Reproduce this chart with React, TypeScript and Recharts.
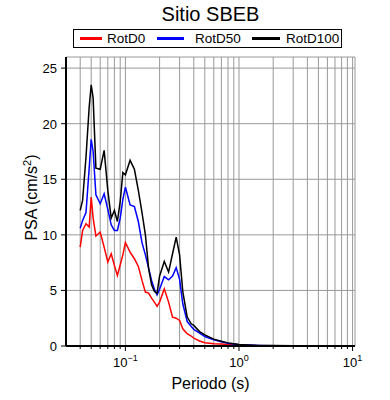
import { LineChart, Line, XAxis, YAxis, CartesianGrid } from "recharts";

// Periods (s) and PSA values (cm/s^2)
const periods = [
  0.04, 0.042, 0.045, 0.048, 0.05, 0.052, 0.055, 0.06, 0.065, 0.07, 0.075, 0.08, 0.085, 0.09,
  0.095, 0.1, 0.11, 0.12, 0.13, 0.14, 0.15, 0.16, 0.17, 0.18, 0.19, 0.2, 0.22, 0.24, 0.26,
  0.28, 0.3, 0.32, 0.35, 0.38, 0.4, 0.45, 0.5, 0.55, 0.6, 0.7, 0.8, 0.9, 1, 1.2, 1.5, 2, 3, 4,
  5, 7.5, 10,
];

const rotD0 = [
  8.9, 10.4, 11.0, 10.7, 13.4, 11.5, 9.9, 10.25, 8.9, 7.55, 8.3, 7.25, 6.35, 7.3, 8.2, 9.3,
  8.45, 7.85, 7.16, 5.9, 4.85, 4.76, 4.3, 3.95, 3.57, 3.95, 5.15, 3.95, 2.6, 2.5, 2.3, 1.55,
  1.1, 0.9, 0.7, 0.45, 0.3, 0.25, 0.21, 0.17, 0.14, 0.1, 0.07, 0.05, 0.03, 0.02, 0.01, 0.006,
  0.004, 0.002, 0.001,
];

const rotD50 = [
  10.6, 11.3, 12.0, 16.0, 18.6, 17.5, 13.6, 12.8, 13.7, 12.3, 10.9, 10.4, 10.4, 11.5, 13.2,
  14.3, 12.7, 12.55, 11.2, 9.3, 8.2, 7.0, 5.9, 5.1, 4.6, 5.1, 6.25, 5.96, 6.3, 7.05, 6.0, 3.8,
  2.2, 1.75, 1.5, 1.15, 0.85, 0.7, 0.55, 0.38, 0.25, 0.18, 0.12, 0.08, 0.05, 0.03, 0.015,
  0.01, 0.007, 0.004, 0.002,
];

const rotD100 = [
  12.2, 13.1, 17.0, 21.5, 23.5, 22.3, 16.0, 15.9, 17.6, 14.0, 11.5, 12.2, 11.2, 13.0, 15.6,
  15.4, 16.7, 15.9, 14.0, 12.0, 10.0, 7.0, 5.5, 4.9, 4.75, 6.3, 7.6, 6.65, 8.3, 9.8, 8.2, 4.9,
  2.6, 2.0, 1.85, 1.3, 1.0, 0.8, 0.62, 0.42, 0.28, 0.2, 0.13, 0.09, 0.05, 0.035, 0.02, 0.012,
  0.008, 0.005, 0.003,
];

const xTicks = [
  0.04, 0.05, 0.06, 0.07, 0.08, 0.09, 0.1, 0.2, 0.3, 0.4, 0.5, 0.6, 0.7, 0.8, 0.9, 1, 2, 3, 4,
  5, 6, 7, 8, 9, 10,
];
const yTicks = [0, 5, 10, 15, 20, 25];

const seriesInfo = [
  { key: "rotD0", name: "RotD0", color: "#ff0000" },
  { key: "rotD50", name: "RotD50", color: "#0000ff" },
  { key: "rotD100", name: "RotD100", color: "#000000" },
];

const data = periods.map((p, i) => ({
  period: p,
  rotD0: rotD0[i],
  rotD50: rotD50[i],
  rotD100: rotD100[i],
}));

const FONT = "'Liberation Sans', Arial, Helvetica, sans-serif";

const isDecade = (v: number) => Math.abs(Math.log10(v) - Math.round(Math.log10(v))) < 1e-6;

function BottomTick(props: any) {
  const { x, y, payload } = props;
  const v = payload.value;
  const major = isDecade(v);
  const exp = Math.round(Math.log10(v));
  return (
    <g>
      <line x1={x} y1={y} x2={x} y2={y + (major ? 5 : 3)} stroke="#000" strokeWidth={1} />
      {major && (
        <text x={x} y={y + 21} textAnchor="middle" fontSize={13} fontFamily={FONT} fill="#000">
          <tspan>10</tspan>
          <tspan dy={-6} fontSize={9}>
            {exp < 0 ? "\u2212" + Math.abs(exp) : exp}
          </tspan>
        </text>
      )}
    </g>
  );
}

function TopTick(props: any) {
  const { x, y, payload } = props;
  const major = isDecade(payload.value);
  return <line x1={x} y1={y} x2={x} y2={y - (major ? 5 : 3)} stroke="#000" strokeWidth={1} />;
}

function LeftTick(props: any) {
  const { x, y, payload } = props;
  return (
    <g>
      <line x1={x - 5} y1={y} x2={x} y2={y} stroke="#000" strokeWidth={1} />
      <text x={x - 9} y={y + 5} textAnchor="end" fontSize={13} fontFamily={FONT} fill="#000">
        {payload.value}
      </text>
    </g>
  );
}

function RightTick(props: any) {
  const { x, y } = props;
  return <line x1={x} y1={y} x2={x + 5} y2={y} stroke="#000" strokeWidth={1} />;
}

// y title with a raised "2"
function YTitle(props: any) {
  const vb = props.viewBox || {};
  const cx = (vb.x || 0) + 37;
  const cy = (vb.y || 0) + (vb.height || 0) / 2 - 4;
  return (
    <text
      x={cx}
      y={cy}
      transform={`rotate(-90 ${cx} ${cy})`}
      textAnchor="middle"
      fontSize={16}
      fontFamily={FONT}
      fill="#000"
    >
      <tspan>PSA (cm/s</tspan>
      <tspan dy={-6} fontSize={11}>
        2
      </tspan>
      <tspan dy={6}>)</tspan>
    </text>
  );
}

const frameLine = { stroke: "#000", strokeWidth: 2 };

export default function App() {
  return (
    <div
      style={{
        position: "absolute",
        left: 0,
        top: 0,
        width: 390,
        height: 400,
        background: "#fff",
        fontFamily: FONT,
      }}
    >
      <div
        style={{
          position: "absolute",
          left: 0,
          width: 421,
          top: 3,
          textAlign: "center",
          fontSize: 20,
          color: "#000",
        }}
      >
        Sitio SBEB
      </div>
      <div
        style={{
          position: "absolute",
          left: 73,
          top: 29,
          width: 267,
          height: 17,
          border: "1.5px solid #000",
          fontSize: 13.5,
        }}
      >
        {seriesInfo.map((s, i) => {
          const lineLeft = [6, 83, 178][i];
          const lineWidth = [22, 27, 28][i];
          const textLeft = [33, 121, 212][i];
          return (
            <div key={s.key}>
              <div
                style={{
                  position: "absolute",
                  left: lineLeft,
                  top: 7,
                  width: lineWidth,
                  height: 3,
                  background: s.color,
                }}
              />
              <div style={{ position: "absolute", left: textLeft, top: 0, lineHeight: "17px" }}>
                {s.name}
              </div>
            </div>
          );
        })}
      </div>

      <LineChart
        width={390}
        height={400}
        data={data}
        margin={{ top: 57, right: 35, left: 0, bottom: 0 }}
        style={{ position: "absolute", left: 0, top: 0 }}
      >
        <CartesianGrid stroke="#999" strokeWidth={1} />
        <XAxis
          dataKey="period"
          type="number"
          scale="log"
          domain={[0.03, 10.5]}
          allowDataOverflow
          ticks={xTicks}
          height={54}
          tickSize={0}
          tickMargin={0}
          tickLine={false}
          axisLine={frameLine}
          tick={<BottomTick />}
          interval={0}
          label={{
            value: "Periodo (s)",
            position: "insideBottom",
            offset: 11,
            fontSize: 16,
            fontFamily: FONT,
            fill: "#000",
          }}
        />
        <XAxis
          xAxisId="top"
          orientation="top"
          dataKey="period"
          type="number"
          scale="log"
          domain={[0.03, 10.5]}
          allowDataOverflow
          ticks={xTicks}
          height={0}
          tickSize={0}
          tickMargin={0}
          tickLine={false}
          axisLine={frameLine}
          tick={<TopTick />}
          interval={0}
        />
        <YAxis
          type="number"
          domain={[0, 26]}
          ticks={yTicks}
          width={66}
          tickSize={0}
          tickMargin={0}
          tickLine={false}
          axisLine={frameLine}
          tick={<LeftTick />}
          interval={0}
          label={<YTitle />}
        />
        <YAxis
          yAxisId="right"
          orientation="right"
          type="number"
          domain={[0, 26]}
          ticks={yTicks}
          width={0}
          tickSize={0}
          tickMargin={0}
          tickLine={false}
          axisLine={frameLine}
          tick={<RightTick />}
          interval={0}
        />
        {seriesInfo.map((s) => (
          <Line
            key={s.key}
            dataKey={s.key}
            name={s.name}
            type="linear"
            stroke={s.color}
            strokeWidth={1.5}
            dot={false}
            isAnimationActive={false}
          />
        ))}
      </LineChart>
    </div>
  );
}
